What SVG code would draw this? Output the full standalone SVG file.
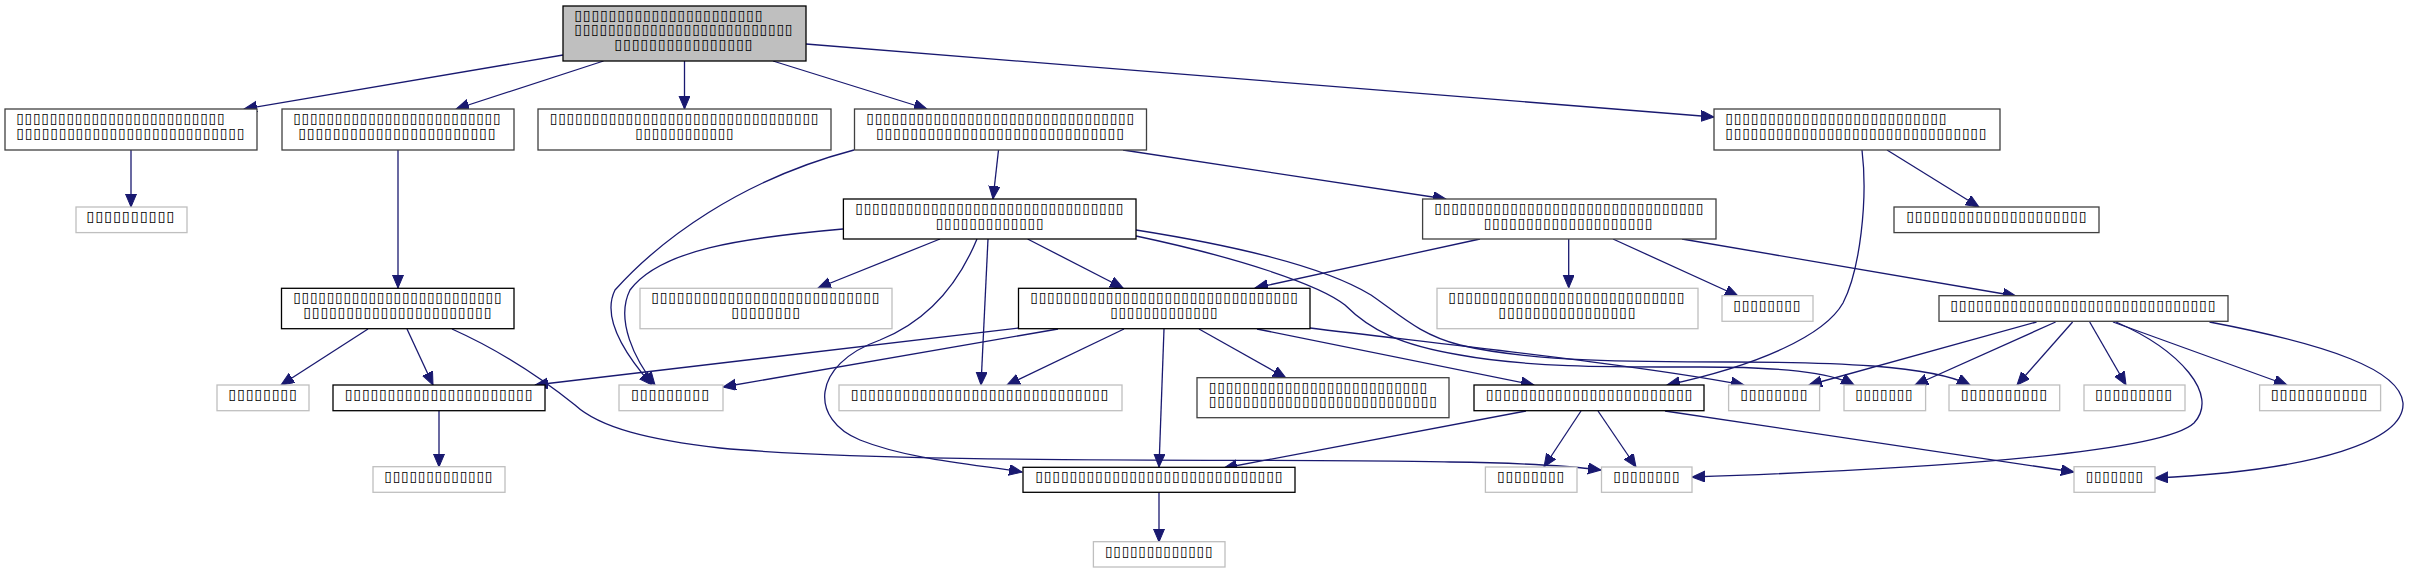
<svg xmlns="http://www.w3.org/2000/svg" width="2421" height="573" viewBox="0 0 2421 573">
<defs>
<marker id="ah" markerUnits="userSpaceOnUse" markerWidth="14" markerHeight="12" refX="13" refY="5.5" orient="auto">
<path d="M0,0 L13,5.5 L0,11 z" fill="#191970" stroke="#191970" stroke-width="1"/>
</marker>
<style>
rect{fill:#fff;stroke-width:1.3}
.k rect{stroke:#404040}
.b rect{stroke:#000}
.g rect{stroke:#bfbfbf}
.r rect{fill:#bfbfbf;stroke:#000}
text{font-family:"DejaVu Sans Mono",monospace;font-size:12px;fill:#000}
#edges path{fill:none;stroke:#191970;stroke-width:1.3;marker-end:url(#ah)}
</style>
</defs>
<g id="edges">
<path d="M563,55 L244,109"/>
<path d="M603.5,61 L456,109"/>
<path d="M684.5,61 L684.5,109"/>
<path d="M773,61 L927,109"/>
<path d="M806,44 L1714,117"/>
<path d="M131,150 L131,207"/>
<path d="M398,150 L398,288"/>
<path d="M998.5,150 L993,199"/>
<path d="M1123,150 L1446,199"/>
<path d="M854,150 C740,180 660,240 615,290 C600,320 630,360 652,385"/>
<path d="M1887,150 L1979,207"/>
<path d="M1862,150 C1868,200 1860,270 1843,303 C1825,335 1760,365 1667,385"/>
<path d="M940,239 L818,288"/>
<path d="M988,239 L981,385"/>
<path d="M1027.6,239 L1123,288"/>
<path d="M977,239 C960,280 930,320 880,340 C810,365 810,420 860,440 C910,460 980,465 1022,472"/>
<path d="M843,229 C740,238 660,250 630,290 C615,320 635,360 655,385"/>
<path d="M1136,236 C1240,258 1320,285 1345,305 C1370,330 1400,345 1460,355 C1530,368 1620,367 1700,367 C1780,367 1830,372 1854,385"/>
<path d="M1136,230 C1250,248 1330,270 1371,295 C1400,315 1420,335 1460,345 C1530,362 1640,362 1733,362 C1830,362 1930,365 1970,385"/>
<path d="M1568.7,239 L1568.7,288"/>
<path d="M1480,239 L1255,288"/>
<path d="M1613,239 L1738,296"/>
<path d="M1682,239 L2016,296"/>
<path d="M368,329 L281,385"/>
<path d="M407,329 L433,385"/>
<path d="M452,329 C510,355 550,385 575,405 C600,428 650,440 720,448 C900,465 1300,458 1450,462 C1530,463 1570,466 1601,470"/>
<path d="M1018.5,328 L535,385"/>
<path d="M1058,329 L723,387"/>
<path d="M1124,329 L1007,385"/>
<path d="M1164,329 L1159,467"/>
<path d="M1199,329 L1286,378"/>
<path d="M1257,329 L1534,385"/>
<path d="M1310,328 C1450,345 1640,365 1744,385"/>
<path d="M439,411 L439,467"/>
<path d="M1526,411 L1224,468"/>
<path d="M1581,411 L1544,467"/>
<path d="M1598,411 L1636,467"/>
<path d="M1665,411 L2074,472"/>
<path d="M2036.5,322 L1809,385"/>
<path d="M2055.6,322 L1915,385"/>
<path d="M2072.6,322 L2017,385"/>
<path d="M2089.7,322 L2126,385"/>
<path d="M2113,322 L2287,385"/>
<path d="M2116,322 C2180,350 2220,395 2194,423 C2160,455 1900,470 1692,477"/>
<path d="M2209.5,322 C2330,345 2400,370 2403,403 C2405,440 2320,470 2155,478"/>
<path d="M1159,492 L1159,542"/>
</g>
<g id="root" class="r"><rect x="563" y="6" width="243" height="55"/>
<text x="574" y="21" textLength="189" lengthAdjust="spacingAndGlyphs">⌷⌷⌷⌷⌷⌷⌷⌷⌷⌷⌷⌷⌷⌷⌷⌷⌷⌷⌷⌷⌷⌷</text>
<text x="574" y="35.3" textLength="219" lengthAdjust="spacingAndGlyphs">⌷⌷⌷⌷⌷⌷⌷⌷⌷⌷⌷⌷⌷⌷⌷⌷⌷⌷⌷⌷⌷⌷⌷⌷⌷⌷</text>
<text x="614" y="49.6" textLength="139" lengthAdjust="spacingAndGlyphs">⌷⌷⌷⌷⌷⌷⌷⌷⌷⌷⌷⌷⌷⌷⌷⌷</text></g>
<g id="nA" class="k"><rect x="5" y="109" width="252" height="41"/>
<text x="16" y="124" textLength="209" lengthAdjust="spacingAndGlyphs">⌷⌷⌷⌷⌷⌷⌷⌷⌷⌷⌷⌷⌷⌷⌷⌷⌷⌷⌷⌷⌷⌷⌷⌷⌷</text>
<text x="16" y="139" textLength="229" lengthAdjust="spacingAndGlyphs">⌷⌷⌷⌷⌷⌷⌷⌷⌷⌷⌷⌷⌷⌷⌷⌷⌷⌷⌷⌷⌷⌷⌷⌷⌷⌷⌷</text></g>
<g id="nB" class="k"><rect x="282" y="109" width="232" height="41"/>
<text x="293" y="124" textLength="208" lengthAdjust="spacingAndGlyphs">⌷⌷⌷⌷⌷⌷⌷⌷⌷⌷⌷⌷⌷⌷⌷⌷⌷⌷⌷⌷⌷⌷⌷⌷⌷</text>
<text x="298" y="139" textLength="198" lengthAdjust="spacingAndGlyphs">⌷⌷⌷⌷⌷⌷⌷⌷⌷⌷⌷⌷⌷⌷⌷⌷⌷⌷⌷⌷⌷⌷⌷</text></g>
<g id="nC" class="k"><rect x="538" y="109" width="293" height="41"/>
<text x="549.5" y="124" textLength="269.5" lengthAdjust="spacingAndGlyphs">⌷⌷⌷⌷⌷⌷⌷⌷⌷⌷⌷⌷⌷⌷⌷⌷⌷⌷⌷⌷⌷⌷⌷⌷⌷⌷⌷⌷⌷⌷⌷⌷</text>
<text x="635" y="139" textLength="99" lengthAdjust="spacingAndGlyphs">⌷⌷⌷⌷⌷⌷⌷⌷⌷⌷⌷⌷</text></g>
<g id="nD" class="k"><rect x="854.5" y="109" width="292" height="41"/>
<text x="866" y="124" textLength="268.6" lengthAdjust="spacingAndGlyphs">⌷⌷⌷⌷⌷⌷⌷⌷⌷⌷⌷⌷⌷⌷⌷⌷⌷⌷⌷⌷⌷⌷⌷⌷⌷⌷⌷⌷⌷⌷⌷⌷</text>
<text x="875.7" y="139" textLength="248.8" lengthAdjust="spacingAndGlyphs">⌷⌷⌷⌷⌷⌷⌷⌷⌷⌷⌷⌷⌷⌷⌷⌷⌷⌷⌷⌷⌷⌷⌷⌷⌷⌷⌷⌷⌷</text></g>
<g id="nE" class="k"><rect x="1714" y="109" width="286" height="41"/>
<text x="1725" y="124" textLength="222" lengthAdjust="spacingAndGlyphs">⌷⌷⌷⌷⌷⌷⌷⌷⌷⌷⌷⌷⌷⌷⌷⌷⌷⌷⌷⌷⌷⌷⌷⌷⌷⌷</text>
<text x="1725" y="139" textLength="262" lengthAdjust="spacingAndGlyphs">⌷⌷⌷⌷⌷⌷⌷⌷⌷⌷⌷⌷⌷⌷⌷⌷⌷⌷⌷⌷⌷⌷⌷⌷⌷⌷⌷⌷⌷⌷⌷</text></g>
<g id="nA1" class="g"><rect x="76" y="207" width="111" height="25.6"/>
<text x="86" y="222" textLength="89" lengthAdjust="spacingAndGlyphs">⌷⌷⌷⌷⌷⌷⌷⌷⌷⌷</text></g>
<g id="nD1" class="b"><rect x="843.4" y="199" width="292.6" height="40"/>
<text x="855" y="214" textLength="269" lengthAdjust="spacingAndGlyphs">⌷⌷⌷⌷⌷⌷⌷⌷⌷⌷⌷⌷⌷⌷⌷⌷⌷⌷⌷⌷⌷⌷⌷⌷⌷⌷⌷⌷⌷⌷⌷⌷</text>
<text x="935.5" y="229" textLength="108.5" lengthAdjust="spacingAndGlyphs">⌷⌷⌷⌷⌷⌷⌷⌷⌷⌷⌷⌷⌷</text></g>
<g id="nD2" class="k"><rect x="1422.6" y="199" width="293.4" height="40"/>
<text x="1434" y="214" textLength="270" lengthAdjust="spacingAndGlyphs">⌷⌷⌷⌷⌷⌷⌷⌷⌷⌷⌷⌷⌷⌷⌷⌷⌷⌷⌷⌷⌷⌷⌷⌷⌷⌷⌷⌷⌷⌷⌷⌷</text>
<text x="1483.4" y="229" textLength="169.6" lengthAdjust="spacingAndGlyphs">⌷⌷⌷⌷⌷⌷⌷⌷⌷⌷⌷⌷⌷⌷⌷⌷⌷⌷⌷⌷</text></g>
<g id="nE1" class="k"><rect x="1894" y="207" width="205" height="25.6"/>
<text x="1906" y="222" textLength="181" lengthAdjust="spacingAndGlyphs">⌷⌷⌷⌷⌷⌷⌷⌷⌷⌷⌷⌷⌷⌷⌷⌷⌷⌷⌷⌷⌷</text></g>
<g id="nB1" class="b"><rect x="281.5" y="288.3" width="232.5" height="40.4"/>
<text x="293" y="303.3" textLength="209" lengthAdjust="spacingAndGlyphs">⌷⌷⌷⌷⌷⌷⌷⌷⌷⌷⌷⌷⌷⌷⌷⌷⌷⌷⌷⌷⌷⌷⌷⌷⌷</text>
<text x="303" y="318" textLength="189" lengthAdjust="spacingAndGlyphs">⌷⌷⌷⌷⌷⌷⌷⌷⌷⌷⌷⌷⌷⌷⌷⌷⌷⌷⌷⌷⌷⌷</text></g>
<g id="nD1a" class="g"><rect x="640" y="288.3" width="252" height="40.4"/>
<text x="651" y="303.3" textLength="229" lengthAdjust="spacingAndGlyphs">⌷⌷⌷⌷⌷⌷⌷⌷⌷⌷⌷⌷⌷⌷⌷⌷⌷⌷⌷⌷⌷⌷⌷⌷⌷⌷⌷</text>
<text x="731" y="318" textLength="69.6" lengthAdjust="spacingAndGlyphs">⌷⌷⌷⌷⌷⌷⌷⌷</text></g>
<g id="nD1b" class="b"><rect x="1018.5" y="288.3" width="291.5" height="40.4"/>
<text x="1030" y="303.3" textLength="268.5" lengthAdjust="spacingAndGlyphs">⌷⌷⌷⌷⌷⌷⌷⌷⌷⌷⌷⌷⌷⌷⌷⌷⌷⌷⌷⌷⌷⌷⌷⌷⌷⌷⌷⌷⌷⌷⌷⌷</text>
<text x="1110" y="318" textLength="108" lengthAdjust="spacingAndGlyphs">⌷⌷⌷⌷⌷⌷⌷⌷⌷⌷⌷⌷⌷</text></g>
<g id="nD2a" class="g"><rect x="1437" y="288.3" width="261" height="40.4"/>
<text x="1448" y="303.3" textLength="237" lengthAdjust="spacingAndGlyphs">⌷⌷⌷⌷⌷⌷⌷⌷⌷⌷⌷⌷⌷⌷⌷⌷⌷⌷⌷⌷⌷⌷⌷⌷⌷⌷⌷⌷</text>
<text x="1498" y="318" textLength="138" lengthAdjust="spacingAndGlyphs">⌷⌷⌷⌷⌷⌷⌷⌷⌷⌷⌷⌷⌷⌷⌷⌷</text></g>
<g id="nD2b" class="g"><rect x="1722" y="295.7" width="91" height="25.6"/>
<text x="1733" y="310.7" textLength="68" lengthAdjust="spacingAndGlyphs">⌷⌷⌷⌷⌷⌷⌷⌷</text></g>
<g id="nD2c" class="k"><rect x="1939" y="295.7" width="289" height="25.6"/>
<text x="1950" y="310.7" textLength="266" lengthAdjust="spacingAndGlyphs">⌷⌷⌷⌷⌷⌷⌷⌷⌷⌷⌷⌷⌷⌷⌷⌷⌷⌷⌷⌷⌷⌷⌷⌷⌷⌷⌷⌷⌷⌷⌷</text></g>
<g id="g1" class="g"><rect x="217" y="385" width="92" height="25.7"/>
<text x="228" y="400" textLength="69.5" lengthAdjust="spacingAndGlyphs">⌷⌷⌷⌷⌷⌷⌷⌷</text></g>
<g id="n1" class="b"><rect x="333" y="385" width="212" height="25.7"/>
<text x="344.5" y="400" textLength="188.5" lengthAdjust="spacingAndGlyphs">⌷⌷⌷⌷⌷⌷⌷⌷⌷⌷⌷⌷⌷⌷⌷⌷⌷⌷⌷⌷⌷⌷</text></g>
<g id="g2" class="g"><rect x="619" y="385" width="104" height="25.7"/>
<text x="630.7" y="400" textLength="79" lengthAdjust="spacingAndGlyphs">⌷⌷⌷⌷⌷⌷⌷⌷⌷</text></g>
<g id="g3" class="g"><rect x="839" y="385" width="283" height="25.7"/>
<text x="850.6" y="400" textLength="258.4" lengthAdjust="spacingAndGlyphs">⌷⌷⌷⌷⌷⌷⌷⌷⌷⌷⌷⌷⌷⌷⌷⌷⌷⌷⌷⌷⌷⌷⌷⌷⌷⌷⌷⌷⌷⌷</text></g>
<g id="n2" class="k"><rect x="1197" y="377.7" width="252" height="40"/>
<text x="1208.6" y="392.7" textLength="219" lengthAdjust="spacingAndGlyphs">⌷⌷⌷⌷⌷⌷⌷⌷⌷⌷⌷⌷⌷⌷⌷⌷⌷⌷⌷⌷⌷⌷⌷⌷⌷⌷</text>
<text x="1208.6" y="407.2" textLength="228.8" lengthAdjust="spacingAndGlyphs">⌷⌷⌷⌷⌷⌷⌷⌷⌷⌷⌷⌷⌷⌷⌷⌷⌷⌷⌷⌷⌷⌷⌷⌷⌷⌷⌷</text></g>
<g id="n3" class="b"><rect x="1474" y="385" width="230" height="25.7"/>
<text x="1485.4" y="400" textLength="207.6" lengthAdjust="spacingAndGlyphs">⌷⌷⌷⌷⌷⌷⌷⌷⌷⌷⌷⌷⌷⌷⌷⌷⌷⌷⌷⌷⌷⌷⌷⌷</text></g>
<g id="g4" class="g"><rect x="1728.6" y="385" width="91" height="25.7"/>
<text x="1740" y="400" textLength="68" lengthAdjust="spacingAndGlyphs">⌷⌷⌷⌷⌷⌷⌷⌷</text></g>
<g id="g5" class="g"><rect x="1844" y="385" width="81.6" height="25.7"/>
<text x="1855" y="400" textLength="58" lengthAdjust="spacingAndGlyphs">⌷⌷⌷⌷⌷⌷⌷</text></g>
<g id="g6" class="g"><rect x="1949" y="385" width="110.7" height="25.7"/>
<text x="1960.5" y="400" textLength="87.3" lengthAdjust="spacingAndGlyphs">⌷⌷⌷⌷⌷⌷⌷⌷⌷⌷</text></g>
<g id="g7" class="g"><rect x="2084" y="385" width="101" height="25.7"/>
<text x="2094.8" y="400" textLength="78" lengthAdjust="spacingAndGlyphs">⌷⌷⌷⌷⌷⌷⌷⌷⌷</text></g>
<g id="g8" class="g"><rect x="2259.6" y="385" width="121" height="25.7"/>
<text x="2270.5" y="400" textLength="97.5" lengthAdjust="spacingAndGlyphs">⌷⌷⌷⌷⌷⌷⌷⌷⌷⌷⌷</text></g>
<g id="g9" class="g"><rect x="373" y="466.7" width="132" height="25.6"/>
<text x="384" y="481.7" textLength="109" lengthAdjust="spacingAndGlyphs">⌷⌷⌷⌷⌷⌷⌷⌷⌷⌷⌷⌷⌷</text></g>
<g id="n4" class="b"><rect x="1023" y="467.3" width="272" height="25"/>
<text x="1035" y="482" textLength="248" lengthAdjust="spacingAndGlyphs">⌷⌷⌷⌷⌷⌷⌷⌷⌷⌷⌷⌷⌷⌷⌷⌷⌷⌷⌷⌷⌷⌷⌷⌷⌷⌷⌷⌷⌷</text></g>
<g id="g10" class="g"><rect x="1485.4" y="467" width="91.6" height="25.3"/>
<text x="1496.8" y="482" textLength="68" lengthAdjust="spacingAndGlyphs">⌷⌷⌷⌷⌷⌷⌷⌷</text></g>
<g id="g11" class="g"><rect x="1601.5" y="467" width="90.5" height="25.3"/>
<text x="1613" y="482" textLength="67" lengthAdjust="spacingAndGlyphs">⌷⌷⌷⌷⌷⌷⌷⌷</text></g>
<g id="g12" class="g"><rect x="2074" y="466.7" width="81" height="25.6"/>
<text x="2085.5" y="481.7" textLength="58" lengthAdjust="spacingAndGlyphs">⌷⌷⌷⌷⌷⌷⌷</text></g>
<g id="g13" class="g"><rect x="1093.4" y="541.7" width="131.6" height="25.3"/>
<text x="1104.8" y="556.7" textLength="108.2" lengthAdjust="spacingAndGlyphs">⌷⌷⌷⌷⌷⌷⌷⌷⌷⌷⌷⌷⌷</text></g>
</svg>
